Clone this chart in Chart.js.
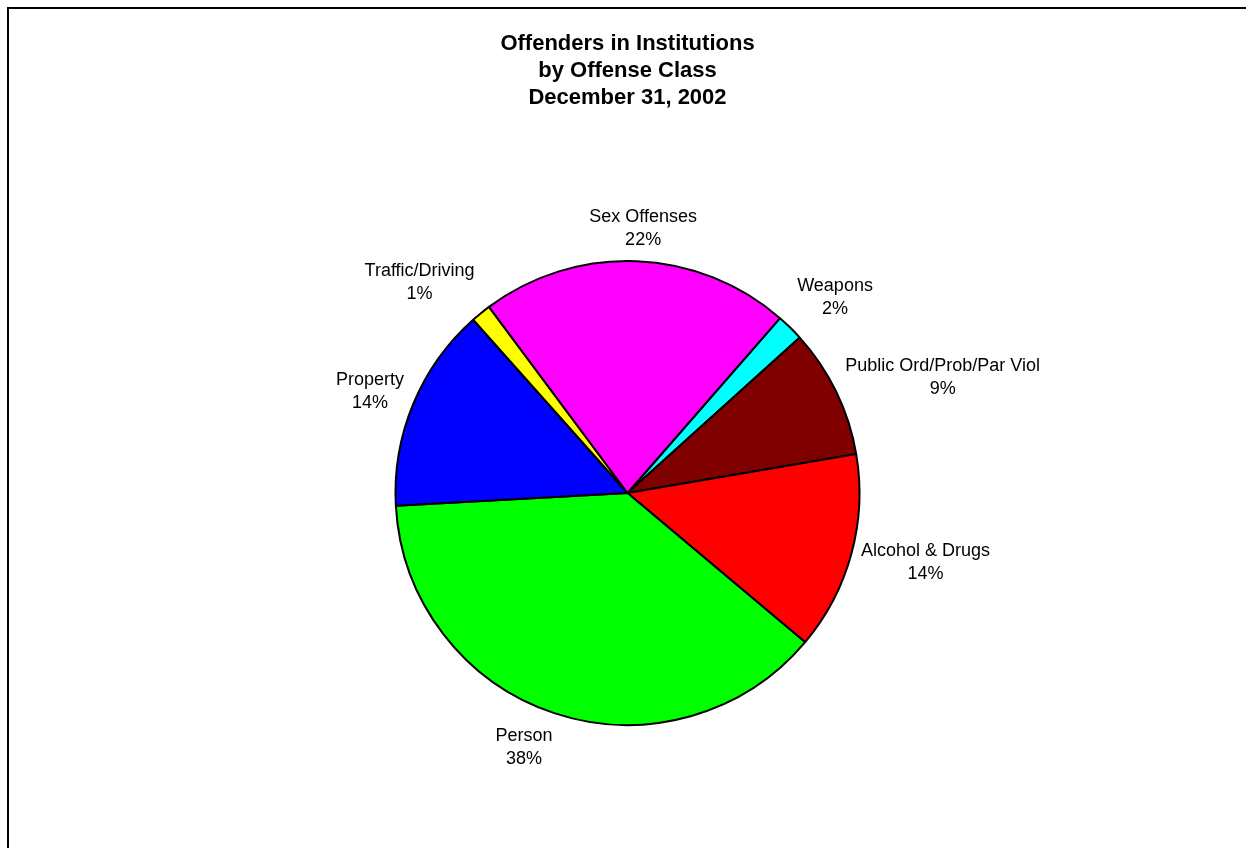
<!DOCTYPE html>
<html>
<head>
<meta charset="utf-8">
<script src="https://cdn.jsdelivr.net/npm/chart.js@4.4.1/dist/chart.umd.min.js"></script>
<style>
  html, body { margin: 0; padding: 0; background: #fff; overflow: hidden; }
  #wrap { position: relative; width: 1246px; height: 848px; }
  canvas { display: block; }
</style>
</head>
<body>
<div id="wrap"><canvas id="c" width="1246" height="848"></canvas></div>
<script>
// ---- data (clockwise from the Weapons slice) ----
const categories = ["Weapons", "Public Ord/Prob/Par Viol", "Alcohol & Drugs", "Person", "Property", "Traffic/Driving", "Sex Offenses"];
const shares = [1.9, 9.0, 13.8, 38.0, 14.3, 1.4, 21.6];
const sliceColors = ["#00FFFF", "#800000", "#FF0000", "#00FF00", "#0000FF", "#FFFF00", "#FF00FF"];
const titleLines = ["Offenders in Institutions", "by Offense Class", "December 31, 2002"];

const FONT = "'Liberation Sans', Arial, Helvetica, sans-serif";

const framePlugin = {
  id: 'frame',
  beforeDraw(chart) {
    const ctx = chart.ctx;
    ctx.save();
    ctx.fillStyle = '#fff';
    ctx.fillRect(0, 0, chart.width, chart.height);
    ctx.strokeStyle = '#000';
    ctx.lineWidth = 2;
    ctx.strokeRect(8, 8, chart.width + 20, chart.height + 20);
    ctx.restore();
  }
};

const labelPlugin = {
  id: 'outLabels',
  afterDatasetsDraw(chart) {
    const ctx = chart.ctx;
    const meta = chart.getDatasetMeta(0);
    const data = chart.data.datasets[0].data;
    const total = data.reduce((a, b) => a + b, 0);
    ctx.save();
    ctx.font = "18px " + FONT;
    ctx.fillStyle = '#000';
    ctx.textAlign = 'center';
    ctx.textBaseline = 'middle';
    const lineH = 23;
    const gap = 10;
    const clamp = v => Math.max(-1, Math.min(1, v));
    const vShape = s => {
      const a = Math.abs(s);
      const f = a < 0.5 ? a : Math.min(1, 0.5 + (a - 0.5) * 2.5);
      return Math.sign(s) * f;
    };
    meta.data.forEach((arc, i) => {
      const p = arc.getProps(['x', 'y', 'startAngle', 'endAngle', 'outerRadius'], true);
      const mid = (p.startAngle + p.endAngle) / 2;
      const rr = p.outerRadius + gap;
      const px = p.x + rr * Math.cos(mid);
      const py = p.y + rr * Math.sin(mid);
      const l1 = chart.data.labels[i];
      const l2 = Math.round(data[i] / total * 100) + '%';
      const w = Math.max(ctx.measureText(l1).width, ctx.measureText(l2).width);
      const h = lineH * 2;
      const cx = px + (w / 2) * clamp(3 * Math.cos(mid));
      const cy = py + (h / 2) * vShape(Math.sin(mid)) + (Math.sin(mid) > 0.9 ? 2 : 0);
      ctx.fillText(l1, cx, cy - lineH / 2);
      ctx.fillText(l2, cx, cy + lineH / 2);
    });
    ctx.restore();
  }
};

new Chart(document.getElementById('c'), {
  type: 'pie',
  data: {
    labels: categories,
    datasets: [{
      data: shares,
      backgroundColor: sliceColors,
      borderColor: '#000',
      borderWidth: 2
    }]
  },
  options: {
    responsive: false,
    animation: false,
    rotation: 41.1,
    layout: { padding: { left: 120, right: 111, top: 0, bottom: 122 } },
    plugins: {
      legend: { display: false },
      tooltip: { enabled: false },
      title: {
        display: true,
        text: titleLines,
        color: '#000',
        font: { family: FONT, size: 22, weight: 'bold', lineHeight: 27 / 22 },
        padding: { top: 30.5, bottom: 148.5 }
      }
    }
  },
  plugins: [framePlugin, labelPlugin]
});
</script>
</body>
</html>
